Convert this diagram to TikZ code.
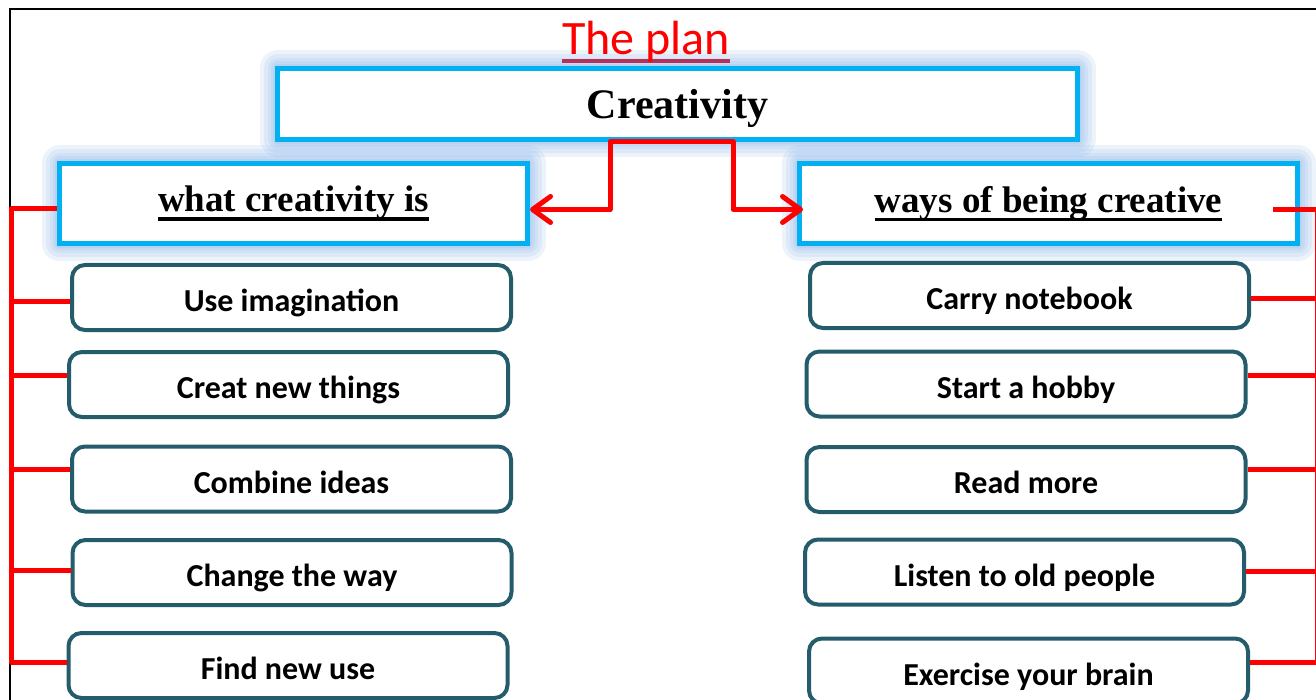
\documentclass[tikz,border=0pt]{standalone}
\usepackage{fontspec}
\setmainfont{Liberation Serif}
\newfontfamily\itemfont{Carlito}
\usetikzlibrary{arrows.meta}

\definecolor{boxcyan}{RGB}{0,176,240}
\definecolor{glowblue}{RGB}{110,160,225}
\definecolor{itemteal}{RGB}{37,92,107}
\definecolor{plumline}{RGB}{180,50,90}
\newcommand{\ulbox}[3]{\setbox0\hbox{#3}\rlap{\color{#1}\rule[-#2]{\wd0}{3.5pt}}\box0}

\begin{document}
\begin{tikzpicture}[x=1pt, y=-1pt,
	glow/.style={preaction={draw=glowblue, line width=#1, opacity=0.12, line join=round}},
	headbox/.style={draw=boxcyan, line width=5pt, fill=white, minimum height=80pt, inner sep=0pt,
		glow=36pt, glow=28pt, glow=20pt, glow=14pt, glow=9pt,
		font=\fontsize{37}{40}\selectfont\bfseries},
	itembox/.style={draw=itemteal, line width=4pt, rounded corners=13pt, fill=white, minimum width=439pt,
		minimum height=65pt, inner sep=0pt, text height=28pt, text depth=0pt,
		font=\itemfont\fontsize{32}{36}\selectfont\bfseries},
	redline/.style={draw=red, line width=5pt, line join=round},
	tip/.tip={Straight Barb[length=18pt, width=26pt, round]}]
	\useasboundingbox (0,0) rectangle (1316,700);
	\draw[line width=1.5pt] (10,700) -- (10,9) -- (1316,9);

	% headers
	\node[headbox, minimum width=800pt, minimum height=71pt, text height=36pt, text depth=6pt,
		font=\fontsize{42}{46}\selectfont\bfseries] (crea) at (677.5,104) {Creativity};
	\node[headbox, minimum width=468pt] (whatis) at (293.5,203.5) {\ulbox{black}{9pt}{what creativity is}};
	\node[headbox, minimum width=498pt] (ways) at (1048.5,203.5) {\ulbox{black}{9pt}{ways of being creative}};
	\node[anchor=base, text=red, font=\itemfont\fontsize{48}{52}\selectfont] (plan) at (646,55) {\ulbox{plumline}{8pt}{The plan}};

	% items
	\node[itembox] (useimag) at (291.5,297.5) {Use imagination};
	\node[itembox] (creatnew) at (288.5,384.5) {Creat new things};
	\node[itembox] (combine) at (291.5,479) {Combine ideas};
	\node[itembox] (change) at (292,572.5) {Change the way};
	\node[itembox] (findnew) at (288,665.5) {Find new use};
	\node[itembox] (carry) at (1029.5,295.5) {Carry notebook};
	\node[itembox] (hobby) at (1026,384) {Start a hobby};
	\node[itembox] (readmore) at (1026,479.5) {Read more};
	\node[itembox] (listen) at (1024.5,572) {Listen to old people};
	\node[itembox] (exercise) at (1028.5,671) {Exercise your brain};

	% connectors
	\coordinate (crealeft) at (610,142);
	\coordinate (crearight) at (733,142);
	\draw[redline, tip-tip] ([yshift=-6pt]whatis.east) -| (crealeft) -- (crearight) |- ([xshift=6pt,yshift=-6pt]ways.west);

	\coordinate (lrail) at (11,662);
	\draw[redline] ([yshift=-5.5pt]whatis.west) -| (lrail) -- ([yshift=3.5pt]findnew.west);
	\foreach \n/\s in {useimag/-4.5, creatnew/9.5, combine/10, change/2.5}
		\draw[redline] ([yshift=\s pt]\n.west) -- ([yshift=\s pt]\n.west -| lrail);

	\coordinate (rrail) at (1317,662);
	\draw[redline] ([xshift=-27pt,yshift=-6.5pt]ways.east) -| (rrail) -- ([yshift=9pt]exercise.east);
	\foreach \n/\s in {carry/-3.5, hobby/9, readmore/10.5, listen/1}
		\draw[redline] ([yshift=\s pt]\n.east) -- ([yshift=\s pt]\n.east -| rrail);
\end{tikzpicture}
\end{document}
